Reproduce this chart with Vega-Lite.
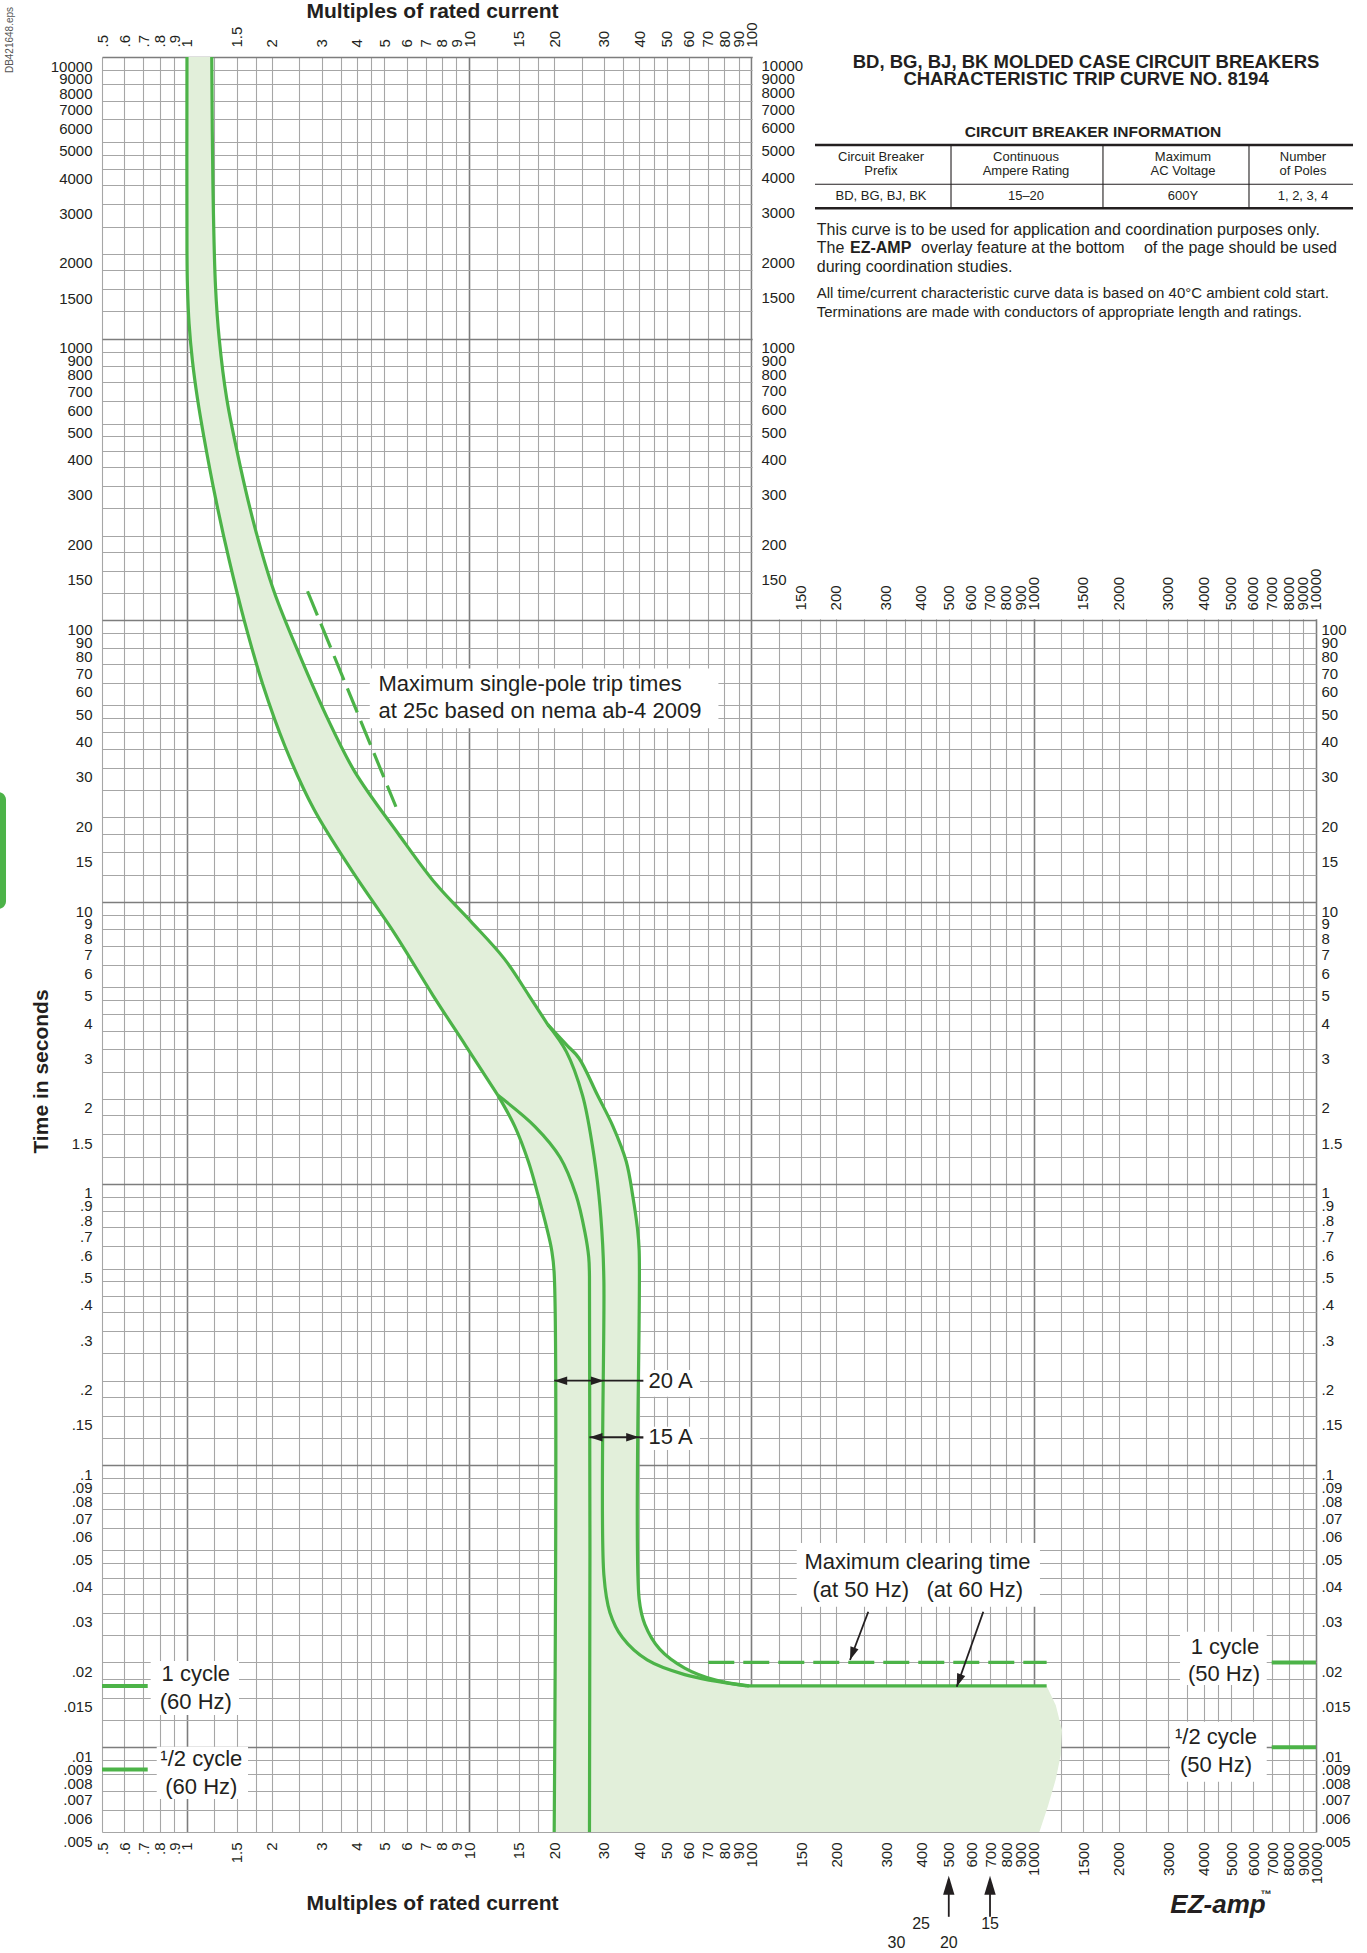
{
"$schema": "https://vega.github.io/schema/vega-lite/v6.json",
"width": 1214, "height": 1775,
"autosize": {"type": "none"},
"padding": {"left": 102, "top": 57, "right": 51, "bottom": 121},
"background": "white",
"config": {"view": {"stroke": null}, "text": {"font": "Liberation Sans", "color": "#231f20"}},
"resolve": {"axis": {"x": "independent", "y": "independent"}},
"datasets": {
"cover": [{"xa": 101, "xb": 10600, "ya": 101, "yb": 10600}],
"band": [
{"t":10000,"lo":1.0,"hi":1.224},{"t":3463,"lo":1.0,"hi":1.236},{"t":2083,"lo":1.0,"hi":1.2522},{"t":1535,"lo":1.004,"hi":1.262},{"t":1131,"lo":1.0174,"hi":1.289},{"t":1000,"lo":1.0288,"hi":1.3007},{"t":833.5,"lo":1.0457,"hi":1.3306},{"t":614.3,"lo":1.089,"hi":1.3824},{"t":452.7,"lo":1.146,"hi":1.469},{"t":351,"lo":1.2023,"hi":1.5462},{"t":272.1,"lo":1.262,"hi":1.643},{"t":211,"lo":1.3346,"hi":1.7463},{"t":163.6,"lo":1.411,"hi":1.8843},{"t":126.9,"lo":1.5033,"hi":2.033},{"t":98.4,"lo":1.602,"hi":2.2511},{"t":76.3,"lo":1.7243,"hi":2.4914},{"t":59.2,"lo":1.856,"hi":2.7862},{"t":45.9,"lo":2.033,"hi":3.1145},{"t":35.6,"lo":2.228,"hi":3.5465},{"t":29.0,"lo":2.4459,"hi":3.9332},{"t":21.4,"lo":2.814,"hi":4.8686},{"t":17.45,"lo":3.1915,"hi":5.613},{"t":12.85,"lo":3.855,"hi":7.054},{"t":11.61,"lo":4.1305,"hi":7.609},{"t":8.56,"lo":5.0808,"hi":10.11},{"t":7.73,"lo":5.444,"hi":11.08},{"t":6.3,"lo":6.1746,"hi":13.3},{"t":4.65,"lo":7.457,"hi":16.3},{"t":3.674,"lo":8.684,"hi":18.98},{"t":3.096,"lo":9.71,"hi":22.25},{"t":2.797,"lo":10.37,"hi":24.46},{"t":2.061,"lo":12.64,"hi":28.49},{"t":1.6,"lo":14.5,"hi":32.3},{"t":1.2,"lo":16.2,"hi":36},{"t":0.9,"lo":17.6,"hi":38},{"t":0.7,"lo":18.8,"hi":39.4},{"t":0.58,"lo":19.6,"hi":40},{"t":0.48,"lo":20,"hi":40},{"t":0.0335,"lo":20,"hi":40},{"t":0.0273,"lo":20,"hi":41.9},{"t":0.0223,"lo":20,"hi":47.3},{"t":0.0191,"lo":20,"hi":58},{"t":0.0173,"lo":20,"hi":74.7},{"t":0.01655,"lo":20,"hi":98},{"t":0.0165,"lo":20,"hi":1111},{"t":0.0141,"lo":20,"hi":1197},{"t":0.0115,"lo":20,"hi":1259},{"t":0.0094,"lo":20,"hi":1247},{"t":0.0077,"lo":20,"hi":1197},{"t":0.0062,"lo":20,"hi":1124},{"t":0.005,"lo":20,"hi":1047}],
"curves": [
{"c":"left","i":0,"x":1.0,"t":10000},{"c":"left","i":1,"x":1.0,"t":2083},{"c":"left","i":2,"x":1.004,"t":1535},{"c":"left","i":3,"x":1.0174,"t":1131},{"c":"left","i":4,"x":1.0457,"t":833.5},{"c":"left","i":5,"x":1.089,"t":614.3},{"c":"left","i":6,"x":1.146,"t":452.7},{"c":"left","i":7,"x":1.262,"t":272.1},{"c":"left","i":8,"x":1.411,"t":163.6},{"c":"left","i":9,"x":1.602,"t":98.4},{"c":"left","i":10,"x":1.856,"t":59.2},{"c":"left","i":11,"x":2.228,"t":35.6},{"c":"left","i":12,"x":2.814,"t":21.4},{"c":"left","i":13,"x":3.855,"t":12.85},{"c":"left","i":14,"x":5.444,"t":7.73},{"c":"left","i":15,"x":7.457,"t":4.65},{"c":"left","i":16,"x":9.71,"t":3.096},{"c":"left","i":17,"x":12.64,"t":2.061},
{"c":"min20","i":0,"x":12.64,"t":2.061},{"c":"min20","i":1,"x":14.5,"t":1.6},{"c":"min20","i":2,"x":16.2,"t":1.2},{"c":"min20","i":3,"x":17.6,"t":0.9},{"c":"min20","i":4,"x":18.8,"t":0.7},{"c":"min20","i":5,"x":19.6,"t":0.58},{"c":"min20","i":6,"x":20,"t":0.48},{"c":"min20","i":7,"x":20,"t":0.005},
{"c":"min15","i":0,"x":12.64,"t":2.061},{"c":"min15","i":1,"x":17.1,"t":1.597},{"c":"min15","i":2,"x":21.0,"t":1.24},{"c":"min15","i":3,"x":23.9,"t":0.912},{"c":"min15","i":4,"x":25.7,"t":0.672},{"c":"min15","i":5,"x":26.5,"t":0.55},{"c":"min15","i":6,"x":26.67,"t":0.47},{"c":"min15","i":7,"x":26.67,"t":0.005},
{"c":"right","i":0,"x":1.224,"t":10000},{"c":"right","i":1,"x":1.236,"t":3463},{"c":"right","i":2,"x":1.262,"t":1535},{"c":"right","i":3,"x":1.3007,"t":1000},{"c":"right","i":4,"x":1.3824,"t":614.3},{"c":"right","i":5,"x":1.5462,"t":351},{"c":"right","i":6,"x":1.7463,"t":211},{"c":"right","i":7,"x":2.033,"t":126.9},{"c":"right","i":8,"x":2.4914,"t":76.3},{"c":"right","i":9,"x":3.1145,"t":45.9},{"c":"right","i":10,"x":3.9332,"t":29.0},{"c":"right","i":11,"x":5.613,"t":17.45},{"c":"right","i":12,"x":7.609,"t":11.61},{"c":"right","i":13,"x":10.11,"t":8.56},{"c":"right","i":14,"x":13.3,"t":6.3},{"c":"right","i":15,"x":16.3,"t":4.65},{"c":"right","i":16,"x":18.98,"t":3.674},
{"c":"max20","i":0,"x":18.98,"t":3.674},{"c":"max20","i":1,"x":22.1,"t":2.94},{"c":"max20","i":2,"x":25.2,"t":2.06},{"c":"max20","i":3,"x":27.3,"t":1.37},{"c":"max20","i":4,"x":28.8,"t":0.912},{"c":"max20","i":5,"x":29.7,"t":0.608},{"c":"max20","i":6,"x":30,"t":0.448},{"c":"max20","i":7,"x":30,"t":0.0408},{"c":"max20","i":8,"x":31.5,"t":0.0301},{"c":"max20","i":9,"x":34.9,"t":0.0245},{"c":"max20","i":10,"x":42.7,"t":0.0204},{"c":"max20","i":11,"x":58,"t":0.0181},{"c":"max20","i":12,"x":96,"t":0.0165},
{"c":"max15","i":0,"x":18.98,"t":3.674},{"c":"max15","i":1,"x":22.25,"t":3.096},{"c":"max15","i":2,"x":24.46,"t":2.797},{"c":"max15","i":3,"x":28.49,"t":2.061},{"c":"max15","i":4,"x":32.3,"t":1.6},{"c":"max15","i":5,"x":36,"t":1.2},{"c":"max15","i":6,"x":38,"t":0.9},{"c":"max15","i":7,"x":39.4,"t":0.7},{"c":"max15","i":8,"x":40,"t":0.58},{"c":"max15","i":9,"x":40,"t":0.0335},{"c":"max15","i":10,"x":41.9,"t":0.0273},{"c":"max15","i":11,"x":47.3,"t":0.0223},{"c":"max15","i":12,"x":58,"t":0.0191},{"c":"max15","i":13,"x":74.7,"t":0.0173},{"c":"max15","i":14,"x":98,"t":0.0165},
{"c":"clear60","i":0,"x":96,"t":0.0165},{"c":"clear60","i":1,"x":1111,"t":0.0165}],
"dashed": [{"c":"single","i":0,"x":2.674,"t":126.9},{"c":"single","i":1,"x":5.5,"t":21.8},{"c":"clear50","i":0,"x":70.3,"t":0.02},{"c":"clear50","i":1,"x":1111,"t":0.02}],
"boxes": [{"xa":4.444,"xb":76.36,"ya":67.44,"yb":41.39},{"xa":41.37,"xb":65.7,"ya":0.2183,"yb":0.1754},{"xa":41.37,"xb":65.7,"ya":0.1373,"yb":0.1135},{"xa":144.6,"xb":1052,"ya":0.05306,"yb":0.03154},{"xa":0.7439,"xb":1.529,"ya":0.02023,"yb":0.013014},{"xa":0.7814,"xb":1.6455,"ya":0.01004,"yb":0.006549},{"xa":3298,"xb":6690,"ya":0.0257,"yb":0.01663},{"xa":3039,"xb":6690,"ya":0.01232,"yb":0.007542}],
"ticks": [{"xa":0.5,"xb":0.726,"t":0.0165},{"xa":0.5,"xb":0.726,"t":0.00833},{"xa":6968,"xb":10000,"t":0.02},{"xa":6968,"xb":10000,"t":0.01}],
"shafts": [{"xa":20,"xb":41.4,"ya":0.2,"yb":0.2},{"xa":26.67,"xb":41.4,"ya":0.126,"yb":0.126},{"xa":259.3,"xb":223.4,"ya":0.03027,"yb":0.0204},{"xa":662.7,"xb":533.5,"ya":0.03027,"yb":0.0164},{"xa":500,"xb":500,"ya":0.0025,"yb":0.0034},{"xa":700,"xb":700,"ya":0.0025,"yb":0.0034}],
"headsL": [{"x":20,"t":0.2},{"x":26.67,"t":0.126}],
"headsR": [{"x":30,"t":0.2},{"x":40,"t":0.126}],
"headsD": [{"x":223.4,"t":0.0204},{"x":533.5,"t":0.0164}],
"headsU": [{"x":500,"t":0.0035},{"x":700,"t":0.0035}],
"tthick": [{"xa":167.9,"xb":13525,"t":4871},{"xa":167.9,"xb":13525,"t":2903}],
"tthin": [{"xa":167.9,"xb":13525,"ya":3533,"yb":3533},{"xa":509.2,"xb":509.2,"ya":4871,"yb":2903},{"xa":1759,"xb":1759,"ya":4871,"yb":2903},{"xa":5789,"xb":5789,"ya":4871,"yb":2903}],
"titles": [{"x":1532,"t":9623,"s":"BD, BG, BJ, BK MOLDED CASE CIRCUIT BREAKERS"},{"x":1532,"t":8333,"s":"CHARACTERISTIC TRIP CURVE NO. 8194"}],
"cbi": [{"x":1622,"t":5403,"s":"CIRCUIT BREAKER INFORMATION"}],
"thead": [{"x":287.6,"t":4405,"s":"Circuit Breaker"},{"x":287.6,"t":3948,"s":"Prefix"},{"x":938.8,"t":4405,"s":"Continuous"},{"x":938.8,"t":3948,"s":"Ampere Rating"},{"x":3379,"t":4405,"s":"Maximum"},{"x":3379,"t":3948,"s":"AC Voltage"},{"x":8992,"t":4405,"s":"Number"},{"x":8992,"t":3948,"s":"of Poles"},{"x":287.6,"t":3210,"s":"BD, BG, BJ, BK"},{"x":938.8,"t":3210,"s":"15–20"},{"x":3379,"t":3210,"s":"600Y"},{"x":8992,"t":3210,"s":"1, 2, 3, 4"}],
"para16": [{"x":170.3,"t":2431,"s":"This curve is to be used for application and coordination purposes only."},{"x":170.3,"t":2104,"s":"The"},{"x":398.7,"t":2104,"s":"overlay feature at the bottom"},{"x":170.3,"t":1801,"s":"during coordination studies."}],
"paraB": [{"x":223.4,"t":2104,"s":"EZ-AMP"}],
"paraR": [{"x":11870,"t":2104,"s":"of the page should be used"}],
"para15": [{"x":170.3,"t":1457,"s":"All time/current characteristic curve data is based on 40°C ambient cold start."},{"x":170.3,"t":1247,"s":"Terminations are made with conductors of appropriate length and ratings."}],
"annL": [{"x":4.77,"t":59.7,"s":"Maximum single-pole trip times"},{"x":4.77,"t":47.69,"s":"at 25c based on nema ab-4 2009"},{"x":43.2,"t":0.2,"s":"20 A"},{"x":43.2,"t":0.126,"s":"15 A"}],
"annC": [{"x":387.4,"t":0.04555,"s":"Maximum clearing time"},{"x":243.9,"t":0.03614,"s":"(at 50 Hz)"},{"x":617.8,"t":0.03614,"s":"(at 60 Hz)"},{"x":1.0746,"t":0.01819,"s":"1 cycle"},{"x":1.0746,"t":0.0145,"s":"(60 Hz)"},{"x":1.124,"t":0.009078,"s":"¹/2 cycle"},{"x":1.124,"t":0.007241,"s":"(60 Hz)"},{"x":4760,"t":0.02274,"s":"1 cycle"},{"x":4722,"t":0.01819,"s":"(50 Hz)"},{"x":4422,"t":0.0109,"s":"¹/2 cycle"},{"x":4422,"t":0.00865,"s":"(50 Hz)"}],
"bnums": [{"x":398.7,"t":0.002366,"s":"25"},{"x":326.2,"t":0.002011,"s":"30"},{"x":500,"t":0.002011,"s":"20"},{"x":700,"t":0.002366,"s":"15"}],
"logo": [{"x":4496,"t":0.002753,"s":"EZ-amp"}],
"tm": [{"x":6651,"t":0.002988,"s":"™"}],
"db": [{"x":0.236,"t":11490,"s":"DB421648.eps"}],
"tab": [{"xa":0.2005,"xb":0.2285,"ya":24.6,"yb":9.45}],
"ymid": [{"v":10000},{"v":9000},{"v":8000},{"v":7000},{"v":6000},{"v":5000},{"v":4000},{"v":3000},{"v":2000},{"v":1500},{"v":1000},{"v":900},{"v":800},{"v":700},{"v":600},{"v":500},{"v":400},{"v":300},{"v":200},{"v":150}],
"xmid": [{"v":150},{"v":200},{"v":300},{"v":400},{"v":500},{"v":600},{"v":700},{"v":800},{"v":900},{"v":1000},{"v":1500},{"v":2000},{"v":3000},{"v":4000},{"v":5000},{"v":6000},{"v":7000},{"v":8000},{"v":9000},{"v":10000}]
},
"layer": [
{"data": {"name": "cover"}, "mark": {"type": "rect", "color": "white", "clip": false},
 "encoding": {
  "x": {"field": "xa", "type": "quantitative", "scale": {"type": "log", "domain": [0.5, 10000], "nice": false},
   "axis": {"orient": "bottom", "values": [0.5,0.6,0.7,0.8,0.9,1,1.25,1.5,1.75,2,2.5,3,3.5,4,4.5,5,6,7,8,9,10,12.5,15,17.5,20,25,30,35,40,45,50,60,70,80,90,100,125,150,175,200,250,300,350,400,450,500,600,700,800,900,1000,1250,1500,1750,2000,2500,3000,3500,4000,4500,5000,6000,7000,8000,9000,10000],
    "grid": true, "gridColor": {"condition": {"test": "abs(log(datum.value)/LN10 - round(log(datum.value)/LN10)) < 0.001", "value": "#7d7d7d"}, "value": "#a6a6a6"},
    "gridWidth": {"condition": {"test": "abs(log(datum.value)/LN10 - round(log(datum.value)/LN10)) < 0.001", "value": 1.6}, "value": 1.1},
    "ticks": false, "domain": false, "labelAngle": 270, "labelPadding": 10, "labelFont": "Liberation Sans", "labelFontSize": 15, "labelColor": "#231f20",
    "labelOverlap": false, "labelBound": false, "labelFlush": false,
    "labelExpr": "indexof(['125','175','25','35','45'], replace(replace(toString(datum.value), '.', ''), regexp('^0+|0+$', 'g'), '')) >= 0 ? '' : replace(toString(datum.value), '0.', '.')",
    "title": "Multiples of rated current", "titleFont": "Liberation Sans", "titleFontSize": 21, "titleFontWeight": "bold", "titleColor": "#231f20",
    "titleX": 330, "titleY": 77, "titleAlign": "center", "titleBaseline": "alphabetic", "titleAngle": 0}},
  "x2": {"field": "xb"},
  "y": {"field": "ya", "type": "quantitative", "scale": {"type": "log", "domain": [0.005, 10000], "nice": false},
   "axis": {"orient": "left", "values": [0.005,0.006,0.007,0.008,0.009,0.01,0.0125,0.015,0.0175,0.02,0.025,0.03,0.035,0.04,0.045,0.05,0.06,0.07,0.08,0.09,0.1,0.125,0.15,0.175,0.2,0.25,0.3,0.35,0.4,0.45,0.5,0.6,0.7,0.8,0.9,1,1.25,1.5,1.75,2,2.5,3,3.5,4,4.5,5,6,7,8,9,10,12.5,15,17.5,20,25,30,35,40,45,50,60,70,80,90,100,125,150,175,200,250,300,350,400,450,500,600,700,800,900,1000,1250,1500,1750,2000,2500,3000,3500,4000,4500,5000,6000,7000,8000,9000,10000],
    "grid": true, "gridColor": {"condition": {"test": "abs(log(datum.value)/LN10 - round(log(datum.value)/LN10)) < 0.001", "value": "#7d7d7d"}, "value": "#a6a6a6"},
    "gridWidth": {"condition": {"test": "abs(log(datum.value)/LN10 - round(log(datum.value)/LN10)) < 0.001", "value": 1.6}, "value": 1.1},
    "ticks": false, "domain": false, "labelPadding": 10, "labelOffset": 9, "labelBaseline": "middle", "labelFont": "Liberation Sans", "labelFontSize": 15, "labelColor": "#231f20",
    "labelOverlap": false, "labelBound": false, "labelFlush": false,
    "labelExpr": "indexof(['125','175','25','35','45'], replace(replace(toString(datum.value), '.', ''), regexp('^0+|0+$', 'g'), '')) >= 0 ? '' : replace(toString(datum.value), '0.', '.')",
    "title": "Time in seconds", "titleFont": "Liberation Sans", "titleFontSize": 21, "titleFontWeight": "bold", "titleColor": "#231f20",
    "titleX": -61, "titleY": 1014, "titleAngle": 270, "titleAlign": "center", "titleBaseline": "middle"}},
  "y2": {"field": "yb"}}},
{"data": {"name": "band"}, "mark": {"type": "area", "orient": "horizontal", "fill": "#e2efda", "fillOpacity": 1, "stroke": null},
 "encoding": {
  "y": {"field": "t", "type": "quantitative", "scale": {"type": "log", "domain": [0.005, 10000], "nice": false},
   "axis": {"orient": "right", "values": [0.005,0.006,0.007,0.008,0.009,0.01,0.015,0.02,0.03,0.04,0.05,0.06,0.07,0.08,0.09,0.1,0.15,0.2,0.3,0.4,0.5,0.6,0.7,0.8,0.9,1,1.5,2,3,4,5,6,7,8,9,10,15,20,30,40,50,60,70,80,90,100],
    "grid": false, "ticks": false, "domain": false, "labelPadding": 5, "labelOffset": 9, "labelBaseline": "middle", "labelFont": "Liberation Sans", "labelFontSize": 15, "labelColor": "#231f20",
    "labelOverlap": false, "labelBound": false, "labelFlush": false, "labelExpr": "replace(toString(datum.value), '0.', '.')", "title": null}},
  "x": {"field": "lo", "type": "quantitative", "scale": {"type": "log", "domain": [0.5, 10000], "nice": false},
   "axis": {"orient": "top", "values": [0.5,0.6,0.7,0.8,0.9,1,1.5,2,3,4,5,6,7,8,9,10,15,20,30,40,50,60,70,80,90,100],
    "grid": false, "ticks": false, "domain": false, "labelAngle": 270, "labelPadding": 10, "labelFont": "Liberation Sans", "labelFontSize": 15, "labelColor": "#231f20",
    "labelOverlap": false, "labelBound": false, "labelFlush": false, "labelExpr": "replace(toString(datum.value), '0.', '.')",
    "title": "Multiples of rated current", "titleFont": "Liberation Sans", "titleFontSize": 21, "titleFontWeight": "bold", "titleColor": "#231f20",
    "titleX": 330, "titleY": -40, "titleAlign": "center", "titleBaseline": "alphabetic", "titleAngle": 0}},
  "x2": {"field": "hi"}}},
{"data": {"name": "boxes"}, "mark": {"type": "rect", "color": "white", "clip": false},
 "encoding": {"x": {"field": "xa", "type": "quantitative", "scale": {"type": "log", "domain": [0.5, 10000], "nice": false}, "axis": null}, "x2": {"field": "xb"},
  "y": {"field": "ya", "type": "quantitative", "scale": {"type": "log", "domain": [0.005, 10000], "nice": false}, "axis": null}, "y2": {"field": "yb"}}},
{"data": {"name": "tab"}, "mark": {"type": "rect", "color": "#4cb348", "cornerRadius": 8, "clip": false},
 "encoding": {"x": {"field": "xa", "type": "quantitative", "scale": {"type": "log", "domain": [0.5, 10000], "nice": false}, "axis": null}, "x2": {"field": "xb"},
  "y": {"field": "ya", "type": "quantitative", "scale": {"type": "log", "domain": [0.005, 10000], "nice": false}, "axis": null}, "y2": {"field": "yb"}}},
{"data": {"name": "ticks"}, "mark": {"type": "rule", "color": "#4cb348", "strokeWidth": 4},
 "encoding": {"x": {"field": "xa", "type": "quantitative", "scale": {"type": "log", "domain": [0.5, 10000], "nice": false}, "axis": null}, "x2": {"field": "xb"},
  "y": {"field": "t", "type": "quantitative", "scale": {"type": "log", "domain": [0.005, 10000], "nice": false}, "axis": null}}},
{"data": {"name": "curves"}, "mark": {"type": "line", "color": "#4cb348", "strokeWidth": 3.2, "interpolate": "catmull-rom"},
 "encoding": {"x": {"field": "x", "type": "quantitative", "scale": {"type": "log", "domain": [0.5, 10000], "nice": false}, "axis": null},
  "y": {"field": "t", "type": "quantitative", "scale": {"type": "log", "domain": [0.005, 10000], "nice": false}, "axis": null},
  "detail": {"field": "c", "type": "nominal"}, "order": {"field": "i", "type": "quantitative"}}},
{"data": {"name": "dashed"}, "mark": {"type": "line", "color": "#4cb348", "strokeWidth": 3.2, "strokeDash": [26, 9]},
 "encoding": {"x": {"field": "x", "type": "quantitative", "scale": {"type": "log", "domain": [0.5, 10000], "nice": false}, "axis": null},
  "y": {"field": "t", "type": "quantitative", "scale": {"type": "log", "domain": [0.005, 10000], "nice": false}, "axis": null},
  "detail": {"field": "c", "type": "nominal"}, "order": {"field": "i", "type": "quantitative"}}},
{"data": {"name": "shafts"}, "mark": {"type": "rule", "color": "#231f20", "strokeWidth": 1.8, "clip": false},
 "encoding": {"x": {"field": "xa", "type": "quantitative", "scale": {"type": "log", "domain": [0.5, 10000], "nice": false}, "axis": null}, "x2": {"field": "xb"},
  "y": {"field": "ya", "type": "quantitative", "scale": {"type": "log", "domain": [0.005, 10000], "nice": false}, "axis": null}, "y2": {"field": "yb"}}},
{"data": {"name": "headsL"}, "mark": {"type": "point", "shape": "M0,0L-1,-0.33L-1,0.33Z", "filled": true, "color": "#231f20", "opacity": 1, "size": 676, "angle": 180, "strokeWidth": 0},
 "encoding": {"x": {"field": "x", "type": "quantitative", "scale": {"type": "log", "domain": [0.5, 10000], "nice": false}, "axis": null},
  "y": {"field": "t", "type": "quantitative", "scale": {"type": "log", "domain": [0.005, 10000], "nice": false}, "axis": null}}},
{"data": {"name": "headsR"}, "mark": {"type": "point", "shape": "M0,0L-1,-0.33L-1,0.33Z", "filled": true, "color": "#231f20", "opacity": 1, "size": 676, "angle": 0, "strokeWidth": 0},
 "encoding": {"x": {"field": "x", "type": "quantitative", "scale": {"type": "log", "domain": [0.5, 10000], "nice": false}, "axis": null},
  "y": {"field": "t", "type": "quantitative", "scale": {"type": "log", "domain": [0.005, 10000], "nice": false}, "axis": null}}},
{"data": {"name": "headsD"}, "mark": {"type": "point", "shape": "M0,0L-1,-0.33L-1,0.33Z", "filled": true, "color": "#231f20", "opacity": 1, "size": 676, "angle": 110, "strokeWidth": 0},
 "encoding": {"x": {"field": "x", "type": "quantitative", "scale": {"type": "log", "domain": [0.5, 10000], "nice": false}, "axis": null},
  "y": {"field": "t", "type": "quantitative", "scale": {"type": "log", "domain": [0.005, 10000], "nice": false}, "axis": null}}},
{"data": {"name": "headsU"}, "mark": {"type": "point", "shape": "M0,0L-1,-0.3L-1,0.3Z", "filled": true, "color": "#231f20", "opacity": 1, "size": 1444, "angle": 270, "strokeWidth": 0, "clip": false},
 "encoding": {"x": {"field": "x", "type": "quantitative", "scale": {"type": "log", "domain": [0.5, 10000], "nice": false}, "axis": null},
  "y": {"field": "t", "type": "quantitative", "scale": {"type": "log", "domain": [0.005, 10000], "nice": false}, "axis": null}}},
{"data": {"name": "tthick"}, "mark": {"type": "rule", "color": "#231f20", "strokeWidth": 2.4, "clip": false},
 "encoding": {"x": {"field": "xa", "type": "quantitative", "scale": {"type": "log", "domain": [0.5, 10000], "nice": false}, "axis": null}, "x2": {"field": "xb"},
  "y": {"field": "t", "type": "quantitative", "scale": {"type": "log", "domain": [0.005, 10000], "nice": false}, "axis": null}}},
{"data": {"name": "tthin"}, "mark": {"type": "rule", "color": "#231f20", "strokeWidth": 1.1, "clip": false},
 "encoding": {"x": {"field": "xa", "type": "quantitative", "scale": {"type": "log", "domain": [0.5, 10000], "nice": false}, "axis": null}, "x2": {"field": "xb"},
  "y": {"field": "ya", "type": "quantitative", "scale": {"type": "log", "domain": [0.005, 10000], "nice": false}, "axis": null}, "y2": {"field": "yb"}}},
{"data": {"name": "titles"}, "mark": {"type": "text", "font": "Liberation Sans", "fontSize": 18.5, "fontWeight": "bold", "align": "center", "baseline": "middle", "clip": false},
 "encoding": {"x": {"field": "x", "type": "quantitative", "scale": {"type": "log", "domain": [0.5, 10000], "nice": false}, "axis": null},
  "y": {"field": "t", "type": "quantitative", "scale": {"type": "log", "domain": [0.005, 10000], "nice": false}, "axis": null}, "text": {"field": "s"}}},
{"data": {"name": "cbi"}, "mark": {"type": "text", "font": "Liberation Sans", "fontSize": 15.5, "fontWeight": "bold", "align": "center", "baseline": "middle", "clip": false},
 "encoding": {"x": {"field": "x", "type": "quantitative", "scale": {"type": "log", "domain": [0.5, 10000], "nice": false}, "axis": null},
  "y": {"field": "t", "type": "quantitative", "scale": {"type": "log", "domain": [0.005, 10000], "nice": false}, "axis": null}, "text": {"field": "s"}}},
{"data": {"name": "thead"}, "mark": {"type": "text", "font": "Liberation Sans", "fontSize": 13, "align": "center", "baseline": "middle", "clip": false},
 "encoding": {"x": {"field": "x", "type": "quantitative", "scale": {"type": "log", "domain": [0.5, 10000], "nice": false}, "axis": null},
  "y": {"field": "t", "type": "quantitative", "scale": {"type": "log", "domain": [0.005, 10000], "nice": false}, "axis": null}, "text": {"field": "s"}}},
{"data": {"name": "para16"}, "mark": {"type": "text", "font": "Liberation Sans", "fontSize": 16, "align": "left", "baseline": "middle", "clip": false},
 "encoding": {"x": {"field": "x", "type": "quantitative", "scale": {"type": "log", "domain": [0.5, 10000], "nice": false}, "axis": null},
  "y": {"field": "t", "type": "quantitative", "scale": {"type": "log", "domain": [0.005, 10000], "nice": false}, "axis": null}, "text": {"field": "s"}}},
{"data": {"name": "paraB"}, "mark": {"type": "text", "font": "Liberation Sans", "fontSize": 16, "fontWeight": "bold", "align": "left", "baseline": "middle", "clip": false},
 "encoding": {"x": {"field": "x", "type": "quantitative", "scale": {"type": "log", "domain": [0.5, 10000], "nice": false}, "axis": null},
  "y": {"field": "t", "type": "quantitative", "scale": {"type": "log", "domain": [0.005, 10000], "nice": false}, "axis": null}, "text": {"field": "s"}}},
{"data": {"name": "paraR"}, "mark": {"type": "text", "font": "Liberation Sans", "fontSize": 16, "align": "right", "baseline": "middle", "clip": false},
 "encoding": {"x": {"field": "x", "type": "quantitative", "scale": {"type": "log", "domain": [0.5, 10000], "nice": false}, "axis": null},
  "y": {"field": "t", "type": "quantitative", "scale": {"type": "log", "domain": [0.005, 10000], "nice": false}, "axis": null}, "text": {"field": "s"}}},
{"data": {"name": "para15"}, "mark": {"type": "text", "font": "Liberation Sans", "fontSize": 15, "align": "left", "baseline": "middle", "clip": false},
 "encoding": {"x": {"field": "x", "type": "quantitative", "scale": {"type": "log", "domain": [0.5, 10000], "nice": false}, "axis": null},
  "y": {"field": "t", "type": "quantitative", "scale": {"type": "log", "domain": [0.005, 10000], "nice": false}, "axis": null}, "text": {"field": "s"}}},
{"data": {"name": "annL"}, "mark": {"type": "text", "font": "Liberation Sans", "fontSize": 22, "align": "left", "baseline": "middle"},
 "encoding": {"x": {"field": "x", "type": "quantitative", "scale": {"type": "log", "domain": [0.5, 10000], "nice": false}, "axis": null},
  "y": {"field": "t", "type": "quantitative", "scale": {"type": "log", "domain": [0.005, 10000], "nice": false}, "axis": null}, "text": {"field": "s"}}},
{"data": {"name": "annC"}, "mark": {"type": "text", "font": "Liberation Sans", "fontSize": 22, "align": "center", "baseline": "middle"},
 "encoding": {"x": {"field": "x", "type": "quantitative", "scale": {"type": "log", "domain": [0.5, 10000], "nice": false}, "axis": null},
  "y": {"field": "t", "type": "quantitative", "scale": {"type": "log", "domain": [0.005, 10000], "nice": false}, "axis": null}, "text": {"field": "s"}}},
{"data": {"name": "bnums"}, "mark": {"type": "text", "font": "Liberation Sans", "fontSize": 16, "align": "center", "baseline": "middle", "clip": false},
 "encoding": {"x": {"field": "x", "type": "quantitative", "scale": {"type": "log", "domain": [0.5, 10000], "nice": false}, "axis": null},
  "y": {"field": "t", "type": "quantitative", "scale": {"type": "log", "domain": [0.005, 10000], "nice": false}, "axis": null}, "text": {"field": "s"}}},
{"data": {"name": "logo"}, "mark": {"type": "text", "font": "Liberation Sans", "fontSize": 26, "fontWeight": "bold", "fontStyle": "italic", "align": "center", "baseline": "middle", "clip": false},
 "encoding": {"x": {"field": "x", "type": "quantitative", "scale": {"type": "log", "domain": [0.5, 10000], "nice": false}, "axis": null},
  "y": {"field": "t", "type": "quantitative", "scale": {"type": "log", "domain": [0.005, 10000], "nice": false}, "axis": null}, "text": {"field": "s"}}},
{"data": {"name": "tm"}, "mark": {"type": "text", "font": "Liberation Sans", "fontSize": 11, "fontWeight": "bold", "align": "center", "baseline": "middle", "clip": false},
 "encoding": {"x": {"field": "x", "type": "quantitative", "scale": {"type": "log", "domain": [0.5, 10000], "nice": false}, "axis": null},
  "y": {"field": "t", "type": "quantitative", "scale": {"type": "log", "domain": [0.005, 10000], "nice": false}, "axis": null}, "text": {"field": "s"}}},
{"data": {"name": "db"}, "mark": {"type": "text", "font": "Liberation Sans", "fontSize": 10, "color": "#555555", "angle": 270, "align": "center", "baseline": "middle", "clip": false},
 "encoding": {"x": {"field": "x", "type": "quantitative", "scale": {"type": "log", "domain": [0.5, 10000], "nice": false}, "axis": null},
  "y": {"field": "t", "type": "quantitative", "scale": {"type": "log", "domain": [0.005, 10000], "nice": false}, "axis": null}, "text": {"field": "s"}}},
{"data": {"name": "ymid"}, "mark": {"type": "text", "font": "Liberation Sans", "fontSize": 15, "align": "left", "baseline": "middle", "dx": 10, "dy": 9, "clip": false},
 "encoding": {"x": {"datum": 100, "type": "quantitative", "scale": {"type": "log", "domain": [0.5, 10000], "nice": false}, "axis": null},
  "y": {"field": "v", "type": "quantitative", "scale": {"type": "log", "domain": [0.005, 10000], "nice": false}, "axis": null}, "text": {"field": "v", "type": "quantitative", "format": "d"}}},
{"data": {"name": "xmid"}, "mark": {"type": "text", "font": "Liberation Sans", "fontSize": 15, "align": "left", "baseline": "middle", "angle": 270, "dx": 10, "clip": false},
 "encoding": {"x": {"field": "v", "type": "quantitative", "scale": {"type": "log", "domain": [0.5, 10000], "nice": false}, "axis": null},
  "y": {"datum": 100, "type": "quantitative", "scale": {"type": "log", "domain": [0.005, 10000], "nice": false}, "axis": null}, "text": {"field": "v", "type": "quantitative", "format": "d"}}}
]
}
